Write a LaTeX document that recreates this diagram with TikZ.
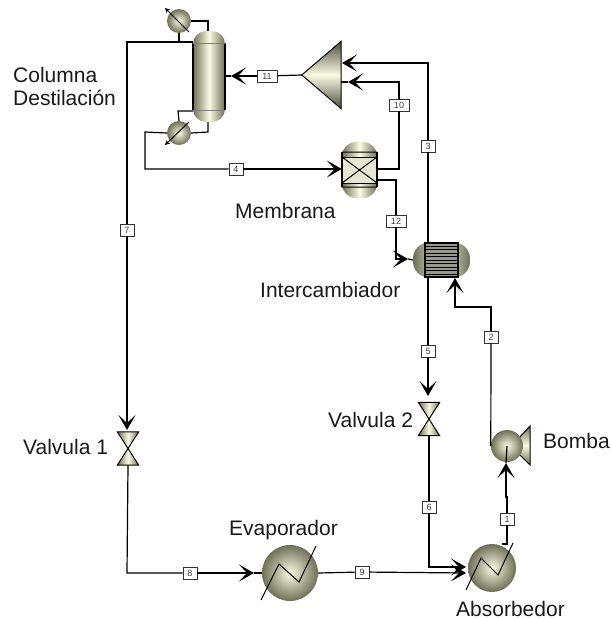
\documentclass[tikz,border=0pt]{standalone}
\usepackage{fontspec}
\setmainfont{Liberation Sans}
\usetikzlibrary{arrows.meta,positioning,shadings}
\definecolor{metaldark}{HTML}{6F6F58}
\definecolor{metalmid}{HTML}{B9B99E}
\definecolor{metallight}{HTML}{FBFBE4}
\tikzset{
  tag/.style={draw=black!80,fill=white,line width=.7pt,inner sep=1pt,minimum width=14pt,minimum height=12pt,font=\fontsize{9}{9}\selectfont,text=black!75},
  caption/.style={anchor=base west,inner sep=0,font=\fontsize{21}{24}\selectfont,text=black!90},
  vessel/.style={draw=none,left color=metaldark,right color=metaldark,middle color=metallight,inner sep=0},
  sphere/.style={circle,draw=none,inner color=metallight,outer color=metaldark,inner sep=0},
  port/.style={inner sep=0,minimum width=#1},
  pipe/.style={line width=1.2pt},
}
\begin{document}
\begin{tikzpicture}[x=1pt,y=-1pt,>={Stealth[length=15pt,width=17pt,inset=8pt]}]
\useasboundingbox (0,0) rectangle (612,619);
% vessels
\node[vessel,rounded corners=13pt,minimum width=32pt,minimum height=91pt] (col) at (209,76.5) {};
\draw[line width=1.2pt] (193,43)--(193,110) (225,43)--(225,110);
\draw[line width=.5pt,black!50] (193,43)--(225,43) (193,110)--(225,110);
\node[vessel,rounded corners=14pt,minimum width=35pt,minimum height=56pt] (mem) at (359.5,170) {};
\draw[line width=1pt,fill=metallight!70!metalmid] (342,157) rectangle (377,183);
\draw[line width=1.2pt] (342,152)--(342,187) (377,152)--(377,187);
\draw[line width=1pt] (342,152)--(377,152) (342,187)--(377,187) (342,157)--(377,183) (342,183)--(377,157);
\node[vessel,rounded corners=16pt,minimum width=57pt,minimum height=35pt] (hx) at (441.5,260) {};
\draw[line width=1.2pt,fill=metaldark!70] (425,243) rectangle (458,277);
\foreach \y in {246,249.5,...,275}{\draw[line width=.8pt] (425,\y)--(458,\y);}
% spheres
\foreach \x/\y/\rad/\name in {179/21/12/cond,179/133/12/reb,290/573/28/evap,492/568/24/abs}
{
  \node[sphere,minimum size=2*\rad pt] (\name) at (\x,\y) {};
}
\draw[line width=1pt,-{Stealth[length=5pt,width=5pt]}] (189,32)--(165,8);
\draw[line width=1pt,-{Stealth[length=5pt,width=5pt]}] (189,122)--(165,145);
\draw[line width=1pt] (261,600)--(279,564)--(299,582)--(316,546);
\draw[line width=1pt] (466,590)--(481,558)--(498,575)--(513,543);
% compressor, pump head, valves
\node[port=39pt,minimum height=67pt] (comp) at (321.5,75) {};
\draw[line width=1pt,top color=metaldark!70!black,bottom color=metaldark!70!black,middle color=metallight] (comp.north east)--(comp.south east)--(comp.west)--cycle;
\draw[line width=1pt,top color=metaldark,bottom color=metaldark,middle color=metallight] (530,426)--(530,465)--(517,452)--(517,440)--cycle;
\node[sphere,minimum size=32pt] (pump) at (507,446) {};
\foreach \x/\y/\name in {128/448.5/vone,429/419/vtwo}
{
  \node[port=21pt,minimum height=33pt] (\name) at (\x,\y) {};
  \draw[line width=1pt,left color=metaldark,right color=metaldark,middle color=metallight] (\name.north west)--(\name.north east)--(\name.center)--(\name.south east)--(\name.south west)--(\name.center)--cycle;
}
% stream tags
\foreach \x/\y/\num in {507/519/1,491/337/2,428/146/3,236/169/4,428/351/5,429/507/6,127/230/7,190/573/8,362/572/9}
{
  \node[tag] (s\num) at (\x,\y) {\num};
}
\foreach \x/\y/\num in {399/105/10,267/76/11,396/221/12}
{
  \node[tag,minimum width=20pt] (s\num) at (\x,\y) {\num};
}
% connectors
\coordinate (colfeed) at (231,76);
\coordinate (in3) at (342,63);
\coordinate (in10) at (348,82);
\coordinate (abstop) at (502,544);
\coordinate (hxfeed) at (408,259);
\coordinate (pumpfeed) at (506,463);
\draw[pipe] (193,42)--(127,42)--(s7);
\draw[pipe,->] (s7)--(127,430);
\draw[pipe] (cond.south)--(179,42);
\draw[pipe] (cond.east)--(208,21)--(208,31);
\draw[pipe] (193,111)--(178,111)--(reb.north);
\draw[pipe] (reb.east)--(208,132)--(208,122);
\draw[pipe] (reb.west)--(145,132)--(145,169)--(s4);
\draw[pipe,->] (s4)--(mem.west |- s4);
\draw[pipe] (comp.west)--(s11);
\draw[pipe,->] (s11)--(colfeed);
\draw[pipe] (colfeed)--(225,76);
\draw[pipe] (428,243)--(s3);
\draw[pipe,->] (s3)--(428,63)--(in3);
\draw[pipe] (377,169)--(399,169)--(s10);
\draw[pipe,->] (s10)--(399,82)--(in10);
\draw[pipe] (in10)--(341,82);
\draw[pipe] (377,180)--(396,180)--(s12);
\draw[pipe,->] (s12)--(396,259)--(hxfeed);
\draw[pipe] (hxfeed)--(hx.west);
\draw[pipe] (428,277)--(s5);
\draw[pipe,->] (s5)--(428,396);
\draw[pipe] (vtwo.south)--(s6);
\draw[pipe,->] (s6)--(429,567)--(466,567);
\draw[pipe] (vone.south)--(127,573)--(s8);
\draw[pipe,->] (s8)--(254,573);
\draw[pipe] (254,573)--(evap.west);
\draw[pipe] (evap.east)--(s9);
\draw[pipe,->] (s9)--(466,573);
\draw[pipe] (abstop)--(507,544)--(s1);
\draw[pipe,->] (s1)--(507,497)--(506,497)--(pumpfeed);
\draw[pipe] (pumpfeed)--(pump.center);
\draw[pipe] (pump.west)--(s2);
\draw[pipe,->] (s2)--(491,307)--(455,307)--(455,278);
% captions
\node[caption] (lblcol) at (13,82) {Columna};
\node[caption] (lbldes) at (13,105) {Destilación};
\node[caption] (lblmem) at (235,218) {Membrana};
\node[caption] (lblhx) at (260,297) {Intercambiador};
\node[caption] (lblvtwo) at (328,427) {Valvula 2};
\node[caption] (lblvone) at (23,454) {Valvula 1};
\node[caption] (lblevap) at (229,535) {Evaporador};
\node[caption] (lblpump) at (543,448) {Bomba};
\node[caption] (lblabs) at (456,616) {Absorbedor};
\end{tikzpicture}
\end{document}
